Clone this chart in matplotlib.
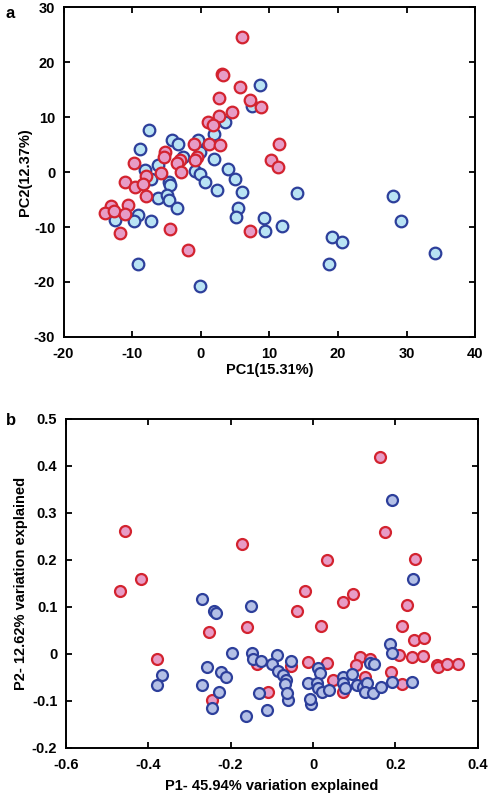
import matplotlib.pyplot as plt

plt.rcParams['font.family'] = ['Liberation Sans', 'DejaVu Sans']
plt.rcParams['font.weight'] = 'bold'
plt.rcParams['axes.unicode_minus'] = False

# ============================= DATOS PANEL A =================================
red_a_x = [6.0, 3.15, 3.3, 5.7, 2.7, 7.2, 8.8, 4.6, 2.7, 1.1, 1.8, 11.4, -1.0, 1.2, 2.8,
           -5.2, -5.3, -3.0, -3.5, -2.8, -0.6, -0.8, -9.7, -8.0, -5.8, 10.3, 11.2, -11.1,
           -9.6, -8.4, -8.0, -13.1, -13.9, -12.7, -10.6, -11.0, -11.7, -4.5, -1.9, 7.2]
red_a_y = [24.6, 17.8, 17.6, 15.4, 13.5, 13.1, 11.8, 11.0, 10.2, 9.1, 8.5, 5.1, 5.1, 5.1, 4.85,
           3.7, 2.8, 2.2, 1.6, 0.05, 2.8, 2.2, 1.7, -0.7, -0.1, 2.2, 1.0, -1.9,
           -2.7, -2.1, -4.4, -6.2, -7.5, -7.0, -6.0, -7.7, -11.0, -10.4, -14.1, -10.7]

blue_a_x = [8.6, 7.5, 3.6, -7.5, 1.9, -8.8, -4.2, -3.3, -0.35, -0.1, 1.9, -2.6, -8.1, -6.2,
            4.0, 5.0, -0.8, -0.1, 0.6, 2.4, 6.0, -4.6, -7.3, -4.5, -6.2, -4.9, -4.6, -3.5,
            -9.2, -9.7, -12.5, -7.3, -9.2, -0.1, 5.5, 5.2, 9.2, 9.4, 11.8, 14.0, 28.1, 29.2,
            19.1, 20.6, 18.7, 34.2]
blue_a_y = [15.8, 12.0, 9.1, 7.6, 7.0, 4.1, 5.8, 5.1, 5.8, 3.7, 2.3, 2.8, 0.4, 1.3,
            0.5, -1.3, 0.2, -0.4, -1.8, -3.3, -3.6, -1.8, -1.3, -2.4, -4.7, -4.1, -5.0, -6.5,
            -7.9, -8.9, -8.7, -8.85, -16.8, -20.7, -6.5, -8.2, -8.4, -10.7, -9.8, -3.8, -4.4, -8.9,
            -11.8, -12.8, -16.7, -14.8]

# ============================= DATOS PANEL B =================================
red_b_x = [-0.456, -0.468, -0.418, -0.173, -0.252, -0.161, -0.378, -0.109, -0.246, -0.137,
           0.162, 0.174, 0.035, 0.247, -0.020, -0.038, 0.0185, 0.073, 0.098, 0.2285, 0.216,
           0.245, 0.270, 0.209, 0.239, 0.267, 0.300, 0.304, 0.324, 0.351, 0.188, 0.216,
           -0.013, 0.035, 0.114, 0.138, 0.104, 0.049, 0.126, 0.073, -0.054]
red_b_y = [0.262, 0.134, 0.159, 0.235, 0.046, 0.058, -0.011, -0.081, -0.099, -0.021,
           0.418, 0.260, 0.199, 0.201, 0.133, 0.091, 0.060, 0.110, 0.128, 0.104, 0.060,
           0.030, 0.035, -0.002, -0.007, -0.004, -0.023, -0.028, -0.021, -0.022, -0.038, -0.064,
           -0.018, -0.020, -0.007, -0.011, -0.024, -0.055, -0.048, -0.080, -0.026]

blue_b_x = [-0.269, -0.240, -0.236, -0.151, -0.197, -0.366, -0.378, -0.258, -0.224, -0.212,
            -0.269, -0.228, -0.149, -0.145, -0.127, -0.088, -0.100, -0.084, -0.131, -0.244,
            -0.163, -0.112, -0.060, -0.006, 0.191, 0.243, 0.187, 0.192, 0.138, 0.148, -0.054,
            -0.072, -0.066, -0.068, -0.062, 0.013, 0.017, -0.013, 0.009, 0.013, 0.021, 0.039,
            0.073, 0.072, 0.077, 0.094, 0.106, 0.120, 0.130, 0.126, 0.146, 0.166, 0.191, 0.239,
            -0.007]
blue_b_y = [0.116, 0.091, 0.088, 0.101, 0.001, -0.045, -0.067, -0.028, -0.039, -0.048,
            -0.067, -0.081, 0.001, -0.011, -0.014, -0.002, -0.021, -0.036, -0.084, -0.116,
            -0.132, -0.119, -0.098, -0.106, 0.328, 0.160, 0.021, 0.003, -0.020, -0.021, -0.014,
            -0.045, -0.055, -0.064, -0.082, -0.030, -0.041, -0.062, -0.062, -0.073, -0.080, -0.077,
            -0.048, -0.062, -0.073, -0.043, -0.066, -0.070, -0.062, -0.080, -0.082, -0.070, -0.059, -0.059,
            -0.096]

# ============================= ESTILOS =================================
rojo_borde = '#d3232f'
rojo_relleno = '#e79cc6'
azul_borde = '#2d3f9b'
azul_relleno_a = '#b9e3f4'
azul_relleno_b = '#b4c0e6'

def estilo_ejes(ax):
    for s in ax.spines.values():
        s.set_linewidth(1.4)
    ax.tick_params(direction='in', top=True, right=True, length=4, width=1.3,
                   labelsize=10.5)
    ax.tick_params(axis='x', pad=7)
    ax.tick_params(axis='y', pad=6)
    for lbl in ax.get_xticklabels() + ax.get_yticklabels():
        lbl.set_fontweight('bold')

fig = plt.figure(figsize=(4.9, 7.98), dpi=100)

# ============================= PANEL A =================================
ax1 = fig.add_axes([0.1296, 0.5777, 0.840, 0.4135])
ax1.scatter(blue_a_x, blue_a_y, s=70, facecolor=azul_relleno_a, edgecolor=azul_borde,
            linewidths=1.6, zorder=3)
ax1.scatter(red_a_x, red_a_y, s=70, facecolor=rojo_relleno, edgecolor=rojo_borde,
            linewidths=1.6, zorder=4)
ax1.set_xlim(-20, 40)
ax1.set_ylim(-30, 30)
ax1.set_xticks(range(-20, 41, 10))
ax1.set_yticks(range(-30, 31, 10))
ax1.set_xlabel('PC1(15.31%)', fontsize=10.5, fontweight='bold', labelpad=2)
ax1.set_ylabel('PC2(12.37%)', fontsize=10.5, fontweight='bold', labelpad=1)
estilo_ejes(ax1)
fig.text(0.012, 0.993, 'a', fontsize=12, fontweight='bold', va='top')

# ============================= PANEL B =================================
ax2 = fig.add_axes([0.134, 0.0627, 0.8414, 0.4123])
ax2.scatter(red_b_x, red_b_y, s=62, facecolor=rojo_relleno, edgecolor=rojo_borde,
            linewidths=1.6, zorder=3)
ax2.scatter(blue_b_x, blue_b_y, s=62, facecolor=azul_relleno_b, edgecolor=azul_borde,
            linewidths=1.6, zorder=4)
ax2.set_xlim(-0.6, 0.4)
ax2.set_ylim(-0.2, 0.5)
ax2.set_xticks([-0.6, -0.4, -0.2, 0, 0.2, 0.4])
ax2.set_xticklabels(['-0.6', '-0.4', '-0.2', '0', '0.2', '0.4'])
ax2.set_yticks([-0.2, -0.1, 0, 0.1, 0.2, 0.3, 0.4, 0.5])
ax2.set_yticklabels(['-0.2', '-0.1', '0', '0.1', '0.2', '0.3', '0.4', '0.5'])
ax2.set_xlabel('P1- 45.94% variation explained', fontsize=10.5, fontweight='bold', labelpad=5)
ax2.set_ylabel('P2- 12.62% variation explained', fontsize=10.5, fontweight='bold', labelpad=3)
estilo_ejes(ax2)
fig.text(0.012, 0.483, 'b', fontsize=12, fontweight='bold', va='top')

plt.savefig('out.png', dpi=100)
